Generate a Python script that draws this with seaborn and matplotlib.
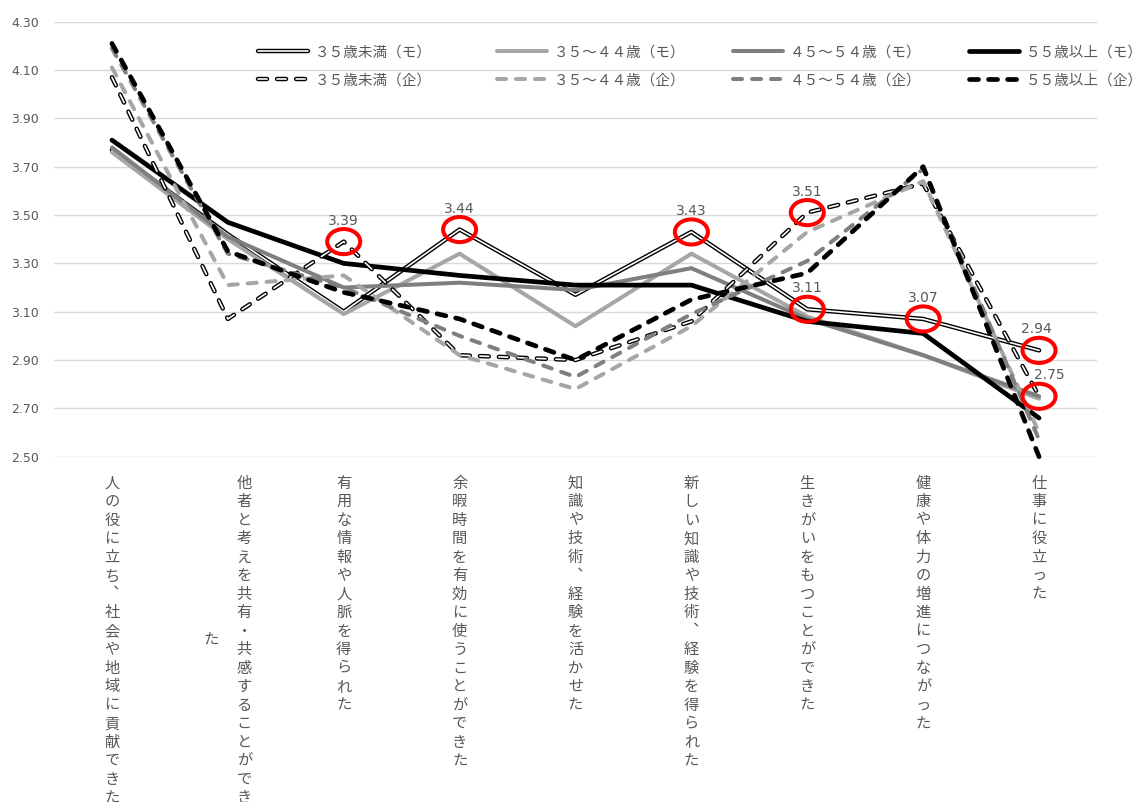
import numpy as np
import pandas as pd
import matplotlib
matplotlib.use("Agg")
import matplotlib.pyplot as plt
import seaborn as sns
from matplotlib.path import Path
from matplotlib.transforms import Affine2D
from matplotlib.lines import Line2D
from matplotlib.legend import Legend
from matplotlib.legend_handler import HandlerTuple

# ---- data -------------------------------------------------------------
categories = [
    "人の役に立ち、社会や地域に貢献できた",
    "他者と考えを共有・共感することができた",
    "有用な情報や人脈を得られた",
    "余暇時間を有効に使うことができた",
    "知識や技術、経験を活かせた",
    "新しい知識や技術、経験を得られた",
    "生きがいをもつことができた",
    "健康や体力の増進につながった",
    "仕事に役立った",
]

age_groups = ["３５歳未満", "３５～４４歳", "４５～５４歳", "５５歳以上"]

# (モ) series
mo_under35 = [3.77, 3.42, 3.10, 3.44, 3.17, 3.43, 3.11, 3.07, 2.94]
mo_35_44 = [3.76, 3.40, 3.09, 3.34, 3.04, 3.34, 3.08, 2.92, 2.74]
mo_45_54 = [3.78, 3.41, 3.20, 3.22, 3.19, 3.28, 3.07, 2.92, 2.75]
mo_55over = [3.81, 3.47, 3.30, 3.25, 3.21, 3.21, 3.06, 3.01, 2.66]

# (企) series
ki_under35 = [4.07, 3.07, 3.39, 2.92, 2.90, 3.06, 3.51, 3.63, 2.75]
ki_35_44 = [4.11, 3.21, 3.25, 2.92, 2.78, 3.04, 3.43, 3.64, 2.60]
ki_45_54 = [4.19, 3.34, 3.20, 3.00, 2.83, 3.09, 3.31, 3.69, 2.57]
ki_55over = [4.21, 3.35, 3.18, 3.07, 2.90, 3.15, 3.26, 3.70, 2.50]

y_ticks = [2.50, 2.70, 2.90, 3.10, 3.30, 3.50, 3.70, 3.90, 4.10, 4.30]

# circled points: (series label, category index, label offset x in px)
highlights = [
    ("３５歳未満（企）", 2, 0),
    ("３５歳未満（モ）", 3, 0),
    ("３５歳未満（モ）", 5, 0),
    ("３５歳未満（企）", 6, 0),
    ("３５歳未満（モ）", 6, 0),
    ("３５歳未満（モ）", 7, 0),
    ("３５歳未満（モ）", 8, -3),
    ("３５歳未満（企）", 8, 10),
]

series_values = {
    "３５歳未満（モ）": mo_under35,
    "３５～４４歳（モ）": mo_35_44,
    "４５～５４歳（モ）": mo_45_54,
    "５５歳以上（モ）": mo_55over,
    "３５歳未満（企）": ki_under35,
    "３５～４４歳（企）": ki_35_44,
    "４５～５４歳（企）": ki_45_54,
    "５５歳以上（企）": ki_55over,
}

rows = []
for name, vals in series_values.items():
    for i, v in enumerate(vals):
        rows.append({"series": name, "pos": i, "value": v})
df = pd.DataFrame(rows)

# ---- styles -------------------------------------------------------------
LIGHT = "#a6a6a6"
MID = "#7f7f7f"
BLACK = "#000000"
TEXT = "#595959"
DASH = (0, (6.5, 7.2))

# name -> list of layers (color, width, linestyle)
layers = {
    "３５歳未満（モ）": [(BLACK, 3.2, "-"), ("white", 1.2, "-")],
    "３５～４４歳（モ）": [(LIGHT, 2.9, "-")],
    "４５～５４歳（モ）": [(MID, 2.9, "-")],
    "５５歳以上（モ）": [(BLACK, 3.4, "-")],
    "３５歳未満（企）": [(BLACK, 3.2, DASH), ("white", 1.2, DASH)],
    "３５～４４歳（企）": [(LIGHT, 2.9, DASH)],
    "４５～５４歳（企）": [(MID, 2.9, DASH)],
    "５５歳以上（企）": [(BLACK, 3.4, DASH)],
}

sns.set_theme(style="white")
plt.rcParams["font.family"] = ["Noto Sans CJK JP", "DejaVu Sans"]
plt.rcParams["lines.scale_dashes"] = False
plt.rcParams["axes.unicode_minus"] = False

fig = plt.figure(figsize=(11.46, 8.02), dpi=100)
fig.patch.set_facecolor("white")
ax = fig.add_axes([54 / 1146, 345.3 / 802, 1043 / 1146, 435.0 / 802])

line_kw = dict(solid_capstyle="round", dash_capstyle="round",
               solid_joinstyle="round", dash_joinstyle="round")

for name in series_values:
    sub = df[df["series"] == name]
    for color, lw, ls in layers[name]:
        sns.lineplot(data=sub, x="pos", y="value", ax=ax, color=color,
                     linewidth=lw, linestyle=ls, sort=False, errorbar=None,
                     legend=False, clip_on=False, **line_kw)

# ---- axes ---------------------------------------------------------------
ax.set_xlim(-0.5, len(categories) - 0.5)
ax.set_ylim(y_ticks[0], y_ticks[-1])
ax.set_yticks(y_ticks)
ax.set_yticklabels([f"{t:.2f}" for t in y_ticks], family="DejaVu Sans",
                   fontsize=9, color=TEXT)
ax.set_xticks(range(len(categories)))
ax.set_xticklabels([])
ax.tick_params(axis="both", length=0)
ax.tick_params(axis="y", pad=11)
ax.set_xlabel("")
ax.set_ylabel("")
ax.yaxis.grid(True, color="#d9d9d9", linewidth=1.0)
ax.xaxis.grid(False)
ax.set_axisbelow(True)
for sp in ax.spines.values():
    sp.set_visible(False)

# ---- vertical category labels ------------------------------------------
pitch = 18.5
col_gap = 33
first_baseline = 31
per_col = 18
for i, label in enumerate(categories):
    chars = list(label.replace("、", "︑"))
    cols = [chars[k:k + per_col] for k in range(0, len(chars), per_col)]
    ncol = len(cols)
    block = max(len(c) for c in cols)
    for j, col in enumerate(cols):
        dx = ((ncol - 1) / 2 - j) * col_gap
        y0 = first_baseline + (block - len(col)) * pitch / 2
        for k, ch in enumerate(col):
            ax.annotate(ch, xy=(i, 0), xycoords=("data", "axes fraction"),
                        xytext=(dx, -(y0 + k * pitch)),
                        textcoords="offset pixels", ha="center",
                        va="baseline", fontsize=11, color=TEXT,
                        annotation_clip=False)

# ---- highlighted points -------------------------------------------------
ellipse = Path.unit_circle().transformed(Affine2D().scale(1.0, 0.76))
hx = [idx for _, idx, _ in highlights]
hy = [series_values[name][idx] for name, idx, _ in highlights]
ax.scatter(hx, hy, marker=ellipse, s=565, facecolors="none",
           edgecolors="#ff0000", linewidths=2.9, zorder=6, clip_on=False)
for name, idx, off in highlights:
    v = series_values[name][idx]
    ax.annotate(f"{v:.2f}", xy=(idx, v), xytext=(off, 21),
                textcoords="offset pixels", ha="center", va="center",
                fontsize=10, color=TEXT, family="DejaVu Sans", zorder=7)

# ---- legend: one block per age group ------------------------------------
def make_handle(name):
    parts = [Line2D([0, 1], [0, 1], color=c, linewidth=lw, linestyle=ls,
                    **line_kw)
             for c, lw, ls in layers[name]]
    return tuple(parts) if len(parts) > 1 else parts[0]

legend_x = [258, 497, 733, 969]
for g, x0 in zip(age_groups, legend_x):
    names = [f"{g}（モ）", f"{g}（企）"]
    handles = [make_handle(n) for n in names]
    leg = Legend(ax, handles, names, loc="center left",
                 bbox_to_anchor=(x0 / 100, (802 - 66.5) / 100),
                 bbox_transform=fig.dpi_scale_trans, frameon=False,
                 fontsize=10.5, labelcolor=TEXT, handlelength=3.42,
                 handletextpad=0.48, labelspacing=0.95, borderpad=0,
                 borderaxespad=0,
                 handler_map={tuple: HandlerTuple(ndivide=1, pad=0)})
    ax.add_artist(leg)

fig.savefig("out.png", dpi=100, facecolor="white")
